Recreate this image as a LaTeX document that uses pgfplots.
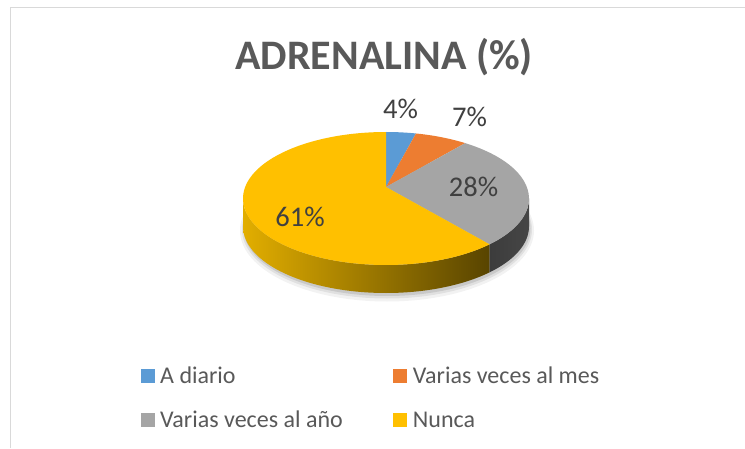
\documentclass[border=0pt]{standalone}
\usepackage{pgfplots}
\pgfplotsset{compat=1.18}
\usepackage{pgfplotstable}
\usepackage{fontspec}
\setmainfont{Carlito}
\definecolor{cA}{HTML}{5B9BD5}
\definecolor{cB}{HTML}{ED7D31}
\definecolor{cC}{HTML}{A5A5A5}
\definecolor{cD}{HTML}{FFC000}
\definecolor{txt}{HTML}{595959}
\definecolor{lbl}{HTML}{404040}
\definecolor{framec}{HTML}{D9D9D9}

\pgfplotstableread[col sep=comma]{
label,value
A diario,4
Varias veces al mes,7
Varias veces al año,28
Nunca,61
}\piedata

\pgfplotstablegetelem{0}{value}\of\piedata \edef\vA{\pgfplotsretval}
\pgfplotstablegetelem{1}{value}\of\piedata \edef\vB{\pgfplotsretval}
\pgfplotstablegetelem{2}{value}\of\piedata \edef\vC{\pgfplotsretval}
\pgfplotstablegetelem{3}{value}\of\piedata \edef\vD{\pgfplotsretval}

% pie geometry (1 unit = 1pt = 1 px of the reference, y upwards)
\def\cx{386}\def\cy{261}\def\ey{249.5}\def\rx{143}\def\ry{66.5}
\def\kk{0.173}\def\RR{140.8}\def\BB{64.5}\def\depth{28}

\newcommand\pieproj[2]{%
  \pgfmathsetmacro\ff{1/(1+\kk*cos(#1))}%
  \pgfmathsetmacro\XX{\cx+\RR*sin(#1)*\ff}%
  \pgfmathsetmacro\YY{\cy+\BB*cos(#1)*\ff}%
  \pgfmathsetmacro\PP{atan2((\YY-\ey)/\ry,(\XX-\cx)/\rx)}%
  \expandafter\xdef\csname phi#2\endcsname{\PP}%
  \pgfmathsetmacro\PX{\cx+\rx*cos(\PP)}%
  \pgfmathsetmacro\PY{\ey+\ry*sin(\PP)}%
  \expandafter\xdef\csname px#2\endcsname{\PX}%
  \expandafter\xdef\csname py#2\endcsname{\PY}%
}
\pgfmathsetmacro\tB{3.6*\vA}
\pgfmathsetmacro\tC{3.6*(\vA+\vB)}
\pgfmathsetmacro\tD{3.6*(\vA+\vB+\vC)}
\pieproj{0}{A}
\pieproj{\tB}{B}
\pieproj{\tC}{C}
\pieproj{\tD}{D}
\pgfmathsetmacro\phiEnd{\phiA-360}
% front (visible) side ranges
\pgfmathsetmacro\sCa{min(\phiC,0)}
\pgfmathsetmacro\sDb{max(\phiEnd,-180)}
\pgfmathsetmacro\sCx{\cx+\rx*cos(\sCa)}\pgfmathsetmacro\sCy{\ey+\ry*sin(\sCa)}

\begin{document}
\begin{tikzpicture}
\begin{axis}[
  width=745pt, height=448pt, scale only axis,
  xmin=0, xmax=745, ymin=0, ymax=448,
  enlargelimits=false, hide axis,
]
\fill[white] (axis cs:0,0) rectangle (axis cs:745,448);
\draw[framec, line width=1.3pt] (axis cs:10.5,0) -- (axis cs:10.5,440.5) -- (axis cs:745,440.5);

% title
\node[anchor=base, text=txt, font=\fontsize{42}{48}\selectfont\bfseries, inner sep=0pt]
  at (axis cs:384.2,378.7) {ADRENALINA (\%)};

% shadow
\fill[black, opacity=0.05] (axis cs:387,217.5) ellipse[x radius=147pt, y radius=71pt];
\fill[black, opacity=0.07] (axis cs:387,218.5) ellipse[x radius=145pt, y radius=69pt];
\fill[black, opacity=0.10] (axis cs:387,219.5) ellipse[x radius=143.5pt, y radius=67.5pt];

% side walls
\shade[left color={rgb,255:red,226;green,174;blue,0}, right color={rgb,255:red,88;green,68;blue,0}]
  (axis cs:\pxD,\pyD) arc[start angle=\phiD, end angle=\sDb, x radius=\rx pt, y radius=\ry pt]
  -- ++(0pt,-\depth pt) arc[start angle=\sDb, end angle=\phiD, x radius=\rx pt, y radius=\ry pt] -- cycle;
\shade[left color={rgb,255:red,60;green,60;blue,60}, right color={rgb,255:red,70;green,70;blue,70}]
  (axis cs:\sCx,\sCy) arc[start angle=\sCa, end angle=\phiD, x radius=\rx pt, y radius=\ry pt]
  -- ++(0pt,-\depth pt) arc[start angle=\phiD, end angle=\sCa, x radius=\rx pt, y radius=\ry pt] -- cycle;

% top faces
\fill[cA] (axis cs:\cx,\cy) -- (axis cs:\pxA,\pyA) arc[start angle=\phiA, end angle=\phiB, x radius=\rx pt, y radius=\ry pt] -- cycle;
\fill[cB] (axis cs:\cx,\cy) -- (axis cs:\pxB,\pyB) arc[start angle=\phiB, end angle=\phiC, x radius=\rx pt, y radius=\ry pt] -- cycle;
\fill[cC] (axis cs:\cx,\cy) -- (axis cs:\pxC,\pyC) arc[start angle=\phiC, end angle=\phiD, x radius=\rx pt, y radius=\ry pt] -- cycle;
\fill[cD] (axis cs:\cx,\cy) -- (axis cs:\pxD,\pyD) arc[start angle=\phiD, end angle=\phiEnd, x radius=\rx pt, y radius=\ry pt] -- cycle;

% data labels
\begin{scope}[every node/.style={anchor=base, text=lbl, inner sep=0pt, font=\fontsize{28.5}{32}\selectfont}]
\node at (axis cs:400.5,329) {\vA\%};
\node at (axis cs:469.5,321.3) {\vB\%};
\node at (axis cs:473.5,251.3) {\vC\%};
\node at (axis cs:300,222) {\vD\%};
\end{scope}

% legend
\begin{scope}[every node/.style={anchor=base west, text=txt, inner sep=0pt, font=\fontsize{24}{28}\selectfont}]
\fill[cA] (axis cs:140.5,65) rectangle (axis cs:154.5,79);
\node at (axis cs:160,64.7) {A diario};
\fill[cB] (axis cs:393.3,65) rectangle (axis cs:407.3,79);
\node at (axis cs:412.7,64.7) {Varias veces al mes};
\fill[cC] (axis cs:140.5,21) rectangle (axis cs:154.5,35);
\node at (axis cs:160,20.7) {Varias veces al año};
\fill[cD] (axis cs:393.3,21) rectangle (axis cs:407.3,35);
\node at (axis cs:412.7,20.7) {Nunca};
\end{scope}
\end{axis}
\end{tikzpicture}
\end{document}
